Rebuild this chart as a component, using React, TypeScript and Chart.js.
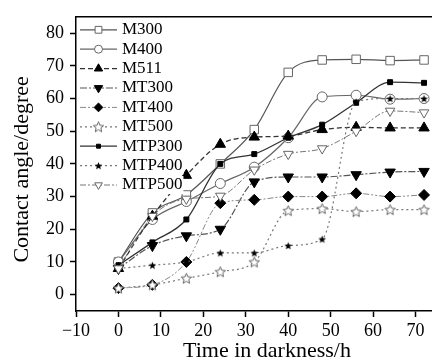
import React, { useEffect, useRef } from 'react';
import { Chart, registerables, PointElement } from 'chart.js';

Chart.register(...registerables);

// ---- data ----
const times = [0, 8, 16, 24, 32, 40, 48, 56, 64, 72];
const seriesNames = ['M300', 'M400', 'M511', 'MT300', 'MT400', 'MT500', 'MTP300', 'MTP400', 'MTP500'];
const m300 = [10, 25, 30.5, 40, 50.5, 68, 71.8, 72, 71.6, 71.8];
const m400 = [10, 23, 28.5, 34, 39, 48, 60.5, 61, 59.8, 60];
const m511 = [8, 24, 36.5, 46, 48.2, 48.5, 50.5, 51.2, 51, 51];
const mt300 = [8, 15, 18, 20, 34.5, 36, 36, 36.7, 37.5, 37.7];
const mt400 = [2, 3, 10, 28, 29, 30, 30, 31, 30, 30.5];
const mt500 = [2, 3, 5, 7, 10, 25.7, 26.3, 25.4, 26, 26];
const mtp300 = [9, 16, 23, 40, 43, 48, 52, 58.7, 65, 64.8];
const mtp400 = [8, 9, 10, 12.8, 12.8, 15, 17, 59, 60, 60];
const mtp500 = [8, 24, 29.3, 30.2, 38.2, 43, 44.7, 50, 56.2, 55.7];
const seriesValues = [m300, m400, m511, mt300, mt400, mt500, mtp300, mtp400, mtp500];

const xTicks = [-10, 0, 10, 20, 30, 40, 50, 60, 70, 80];
const yTicks = [0, 10, 20, 30, 40, 50, 60, 70, 80];

const xLabel = 'Time in darkness/h';
const yLabel = 'Contact angle/degree';

const FONT = "'Liberation Serif', 'Times New Roman', serif";

function makeStar(size: number, fill: string, stroke: string | null, lw: number) {
  const c = document.createElement('canvas');
  c.width = size;
  c.height = size;
  const ctx = c.getContext('2d')!;
  const cx = size / 2;
  const cy = size / 2 + 0.5;
  const R = size / 2 - lw;
  const r = R * 0.45;
  ctx.beginPath();
  for (let i = 0; i < 10; i++) {
    const ang = -Math.PI / 2 + (i * Math.PI) / 5;
    const rr = i % 2 === 0 ? R : r;
    ctx.lineTo(cx + rr * Math.cos(ang), cy + rr * Math.sin(ang));
  }
  ctx.closePath();
  ctx.fillStyle = fill;
  ctx.fill();
  if (stroke) {
    ctx.strokeStyle = stroke;
    ctx.lineWidth = lw;
    ctx.stroke();
  }
  return c;
}

export default function App() {
  const ref = useRef<HTMLCanvasElement>(null);

  useEffect(() => {
    const canvas = ref.current!;
    const openStar = makeStar(13, '#fff', '#666', 1);
    const filledStar = makeStar(9, '#000', null, 0.5);

    const styles: any[] = [
      { line: '#555', dash: [], width: 1.2, ps: 'rect', r: 6, rot: 0, fill: '#fff', stroke: '#666', tension: 0.4 },
      { line: '#666', dash: [], width: 1.2, ps: 'circle', r: 5, rot: 0, fill: '#fff', stroke: '#666', tension: 0.4 },
      { line: '#333', dash: [5, 3], width: 1.3, ps: 'triangle', r: 6, rot: 0, fill: '#000', stroke: '#000', tension: 0.2 },
      { line: '#555', dash: [7, 2, 2, 2], width: 1.2, ps: 'triangle', r: 6, rot: 180, fill: '#000', stroke: '#000', tension: 0.3 },
      { line: '#888', dash: [6, 2, 2, 2, 2, 2], width: 1, ps: 'rectRot', r: 5.5, rot: 0, fill: '#000', stroke: '#000', tension: 0.3 },
      { line: '#777', dash: [2, 3], width: 1.2, ps: openStar, r: 6, rot: 0, fill: '#fff', stroke: '#666', tension: 0.3 },
      { line: '#333', dash: [], width: 1.3, ps: 'rect', r: 3.5, rot: 0, fill: '#000', stroke: '#000', tension: 0.4 },
      { line: '#777', dash: [2, 3], width: 1.2, ps: filledStar, r: 4, rot: 0, fill: '#000', stroke: '#000', tension: 0.3 },
      { line: '#777', dash: [6, 2, 2, 2], width: 1, ps: 'triangle', r: 5.5, rot: 180, fill: '#fff', stroke: '#666', tension: 0.3 },
    ];

    const datasets = seriesNames.map((name, i) => {
      const s = styles[i];
      return {
        label: name,
        data: times.map((t, j) => ({ x: t, y: seriesValues[i][j] })),
        borderColor: s.line,
        borderWidth: s.width,
        borderDash: s.dash,
        pointStyle: s.ps,
        pointRadius: s.r,
        pointRotation: s.rot,
        pointBackgroundColor: s.fill,
        pointBorderColor: s.stroke,
        pointBorderWidth: 1,
        tension: s.tension,
        cubicInterpolationMode: 'monotone' as const,
        fill: false,
        order: 9 - i,
      };
    });

    const framePlugin = {
      id: 'frame',
      afterDraw(chart: any) {
        const { ctx, chartArea } = chart;
        ctx.save();
        ctx.strokeStyle = '#000';
        ctx.lineWidth = 1.5;
        ctx.beginPath();
        ctx.moveTo(chartArea.left, chartArea.top);
        ctx.lineTo(chartArea.right, chartArea.top);
        ctx.lineTo(chartArea.right, chartArea.bottom);
        ctx.stroke();
        ctx.restore();
      },
    };

    const legendPlugin = {
      id: 'innerLegend',
      afterDraw(chart: any) {
        const { ctx, chartArea } = chart;
        ctx.save();
        ctx.font = `17px ${FONT}`;
        ctx.textBaseline = 'middle';
        const x0 = chartArea.left + 4;
        const x1 = chartArea.left + 41;
        const tx = chartArea.left + 46;
        chart.data.datasets.forEach((ds: any, i: number) => {
          const y = chartArea.top + 13 + i * 19.4;
          const s = styles[i];
          const tw = ctx.measureText(ds.label).width;
          ctx.fillStyle = '#fff';
          ctx.fillRect(x0, y - 9, tx - x0 + tw + 1, 18);
          ctx.strokeStyle = s.line;
          ctx.lineWidth = s.width;
          ctx.setLineDash(s.dash);
          ctx.beginPath();
          ctx.moveTo(x0, y);
          ctx.lineTo(x1, y);
          ctx.stroke();
          ctx.setLineDash([]);
          const pt: any = new PointElement({} as any);
          pt.x = (x0 + x1) / 2;
          pt.y = y;
          pt.options = {
            pointStyle: s.ps,
            radius: s.r * 0.8,
            rotation: s.rot,
            backgroundColor: s.fill,
            borderColor: s.stroke,
            borderWidth: 1,
          };
          pt.draw(ctx);
          ctx.fillStyle = '#000';
          ctx.fillText(ds.label, tx, y);
        });
        ctx.restore();
      },
    };

    const tickFont = { family: FONT, size: 18 };
    const titleFont = { family: FONT, size: 22, lineHeight: 1 };

    const chart = new Chart(canvas, {
      type: 'line',
      data: { datasets: datasets as any },
      options: {
        animation: false,
        responsive: false,
        devicePixelRatio: 1,
        layout: { padding: { top: 14, right: 5, bottom: 0, left: 0 } },
        plugins: { legend: { display: false }, tooltip: { enabled: false } },
        scales: {
          x: {
            type: 'linear',
            min: -10,
            max: 80,
            afterBuildTicks: (s: any) => {
              s.ticks = xTicks.map((v) => ({ value: v }));
            },
            ticks: {
              color: '#000',
              font: tickFont,
              padding: 3,
              maxRotation: 0,
              autoSkip: false,
              callback: (v: any) => (v < 0 ? '\u2212' + Math.abs(v) : String(v)),
            },
            grid: { drawOnChartArea: false, tickLength: 6, color: '#000', tickWidth: 1.5 },
            border: { color: '#000', width: 1.5 },
            title: { display: true, text: xLabel, color: '#000', font: titleFont, padding: { top: 0, bottom: 0 } },
            afterFit: (s: any) => {
              s.height = 51;
            },
          },
          y: {
            type: 'linear',
            min: -5,
            max: 85,
            afterBuildTicks: (s: any) => {
              s.ticks = yTicks.map((v) => ({ value: v }));
            },
            ticks: {
              color: '#000',
              font: tickFont,
              padding: 6,
              autoSkip: false,
            },
            grid: { drawOnChartArea: false, tickLength: 6, color: '#000', tickWidth: 1.5 },
            border: { color: '#000', width: 1.5 },
            title: { display: true, text: yLabel + '  ', color: '#000', font: titleFont, padding: { top: 11, bottom: 0 } },
            afterFit: (s: any) => {
              s.width = 76;
            },
          },
        },
      } as any,
      plugins: [framePlugin, legendPlugin],
    });
    return () => chart.destroy();
  }, []);

  return (
    <div style={{ position: 'fixed', left: 0, top: 0, width: 432, height: 362, overflow: 'hidden', background: '#fff' }}>
      <canvas ref={ref} width={470} height={362} style={{ display: 'block' }} />
    </div>
  );
}
